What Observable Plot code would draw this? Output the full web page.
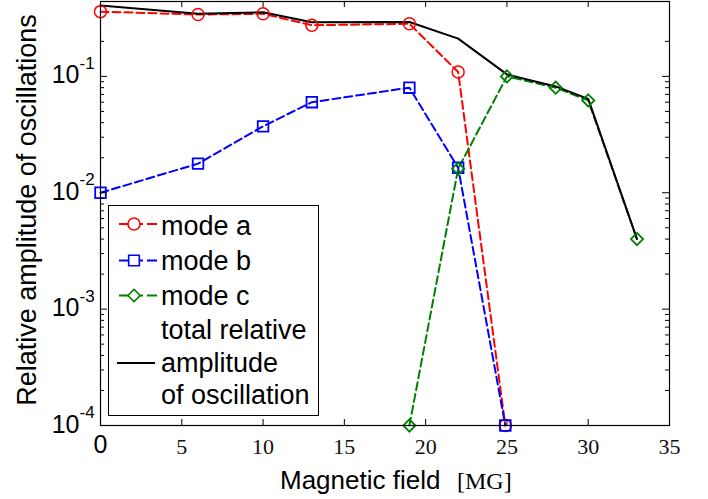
<!DOCTYPE html>
<html><head><meta charset="utf-8">
<script src="https://cdn.jsdelivr.net/npm/d3@7"></script>
<script src="https://cdn.jsdelivr.net/npm/@observablehq/plot@0.6"></script>
<style>body{margin:0;background:#fff}svg{display:block}</style>
</head><body><div id="chart"></div>
<script>
// ---- data ----
const fieldAB = [0, 6, 10, 13, 19, 22, 24.9];
const modeA = [0.36, 0.34, 0.345, 0.275, 0.283, 0.109, 1e-4];
const modeB = [0.01, 0.0178, 0.0372, 0.06, 0.08, 0.0164, 1e-4];
const fieldC = [19, 22, 25, 28, 30, 33];
const modeC = [1e-4, 0.0161, 0.1, 0.08, 0.0622, 0.004];
const fieldTotal = [0, 6, 10, 13, 19, 22, 25, 28, 30, 33];
const totalAmp = [0.406, 0.345, 0.356, 0.292, 0.293, 0.211, 0.104, 0.082, 0.064, 0.004];

const xTicks = [0, 5, 10, 15, 20, 25, 30, 35];
const yMajor = [1e-4, 1e-3, 1e-2, 1e-1];
const yExponents = ["-4", "-3", "-2", "-1"];
const minorMultipliers = [2, 3, 4, 5, 6, 7, 8, 9];
const legendLabels = ["mode a", "mode b", "mode c", "total relative", "amplitude", "of oscillation"];

const yMinor = [];
for (const d of yMajor) for (const m of minorMultipliers) if (m * d <= 0.3) yMinor.push(m * d);

const tbl = (xs, ys) => xs.map((x, i) => ({x, y: ys[i]}));
const dataA = tbl(fieldAB, modeA), dataB = tbl(fieldAB, modeB), dataC = tbl(fieldC, modeC), dataT = tbl(fieldTotal, totalAmp);

const W = 708, H = 499, mL = 100, mR = 39, mT = 1, mB = 74;
const pw = W - mL - mR, ph = H - mT - mB;
const SANS = "'Liberation Sans', Arial, sans-serif";
const SERIF = "'Liberation Serif', 'Times New Roman', serif";
const RED = "#ff0000", BLUE = "#0000ff", GREEN = "#008000";
const dash = "8,4";

const chart = Plot.plot({
  width: W, height: H,
  marginLeft: mL, marginRight: mR, marginTop: mT, marginBottom: mB,
  style: {background: "white", overflow: "visible"},
  x: {domain: [0, 35], axis: null},
  y: {type: "log", domain: [1e-4, 0.44], axis: null},
  marks: [
    Plot.line(dataA, {x: "x", y: "y", stroke: RED, strokeWidth: 2, strokeDasharray: dash}),
    Plot.line(dataB, {x: "x", y: "y", stroke: BLUE, strokeWidth: 2, strokeDasharray: dash}),
    Plot.line(dataC, {x: "x", y: "y", stroke: GREEN, strokeWidth: 2, strokeDasharray: dash}),
    Plot.line(dataT, {x: "x", y: "y", stroke: "black", strokeWidth: 2}),
    Plot.dot(dataA, {x: "x", y: "y", symbol: "circle", r: 6, stroke: RED, strokeWidth: 1.5, fill: "none"}),
    Plot.dot(dataB, {x: "x", y: "y", symbol: "square", r: 6, stroke: BLUE, strokeWidth: 1.8, fill: "none"}),
    Plot.dot(dataC, {x: "x", y: "y", symbol: "diamond2", r: 5.5, stroke: GREEN, strokeWidth: 1.8, fill: "none"}),
    Plot.frame({stroke: "black", strokeWidth: 1.2}),
    // inward ticks, left & right
    Plot.tickY(yMajor, {y: d => d, stroke: "black", insetRight: pw - 7}),
    Plot.tickY(yMajor, {y: d => d, stroke: "black", insetLeft: pw - 7}),
    Plot.tickY(yMinor, {y: d => d, stroke: "black", insetRight: pw - 4}),
    Plot.tickY(yMinor, {y: d => d, stroke: "black", insetLeft: pw - 4}),
    // inward ticks, bottom & top
    Plot.tickX(xTicks.slice(1, -1), {x: d => d, stroke: "black", insetTop: ph - 6}),
    Plot.tickX(xTicks.slice(1, -1), {x: d => d, stroke: "black", insetBottom: ph - 6}),
    // y tick labels 10^k
    Plot.text(yMajor, {y: d => d, frameAnchor: "left", lineAnchor: "middle", textAnchor: "end", dx: -21, dy: -1, text: () => "10", fontSize: 25, fontFamily: SANS, fill: "black"}),
    Plot.text(yMajor, {y: d => d, frameAnchor: "left", lineAnchor: "middle", textAnchor: "start", dx: -21, dy: -13, text: (d, i) => yExponents[i], fontSize: 17, fontFamily: SANS, fill: "black"}),
    // x tick labels
    Plot.text(xTicks.slice(0, 1), {x: d => d, frameAnchor: "bottom", lineAnchor: "middle", dy: 19, text: d => String(d), fontSize: 25, fontFamily: SANS, fill: "black"}),
    Plot.text(xTicks.slice(1), {x: d => d, frameAnchor: "bottom", lineAnchor: "middle", dy: 21, text: d => String(d), fontSize: 22, fontFamily: SERIF, fill: "#111"})
  ]
});

const svg = d3.select(chart);
// axis titles
svg.append("text").attr("transform", "translate(36,210) rotate(-90)")
  .attr("text-anchor", "middle").attr("font-family", SANS).attr("font-size", 27).attr("fill", "black")
  .text("Relative amplitude of oscillations");
const xt = svg.append("text").attr("x", 280).attr("y", 489).attr("fill", "black").attr("text-anchor", "start");
xt.append("tspan").attr("font-family", SANS).attr("font-size", 26).text("Magnetic field");
xt.append("tspan").attr("x", 457).attr("font-family", SERIF).attr("font-size", 24).text("[MG]");

// legend
const lg = svg.append("g").attr("text-anchor", "start");
lg.append("rect").attr("x", 108.5).attr("y", 205.5).attr("width", 210).attr("height", 210)
  .attr("fill", "white").attr("stroke", "black").attr("stroke-width", 1);
const rowsLine = [224, 260.5, 295.5];
const colors = [RED, BLUE, GREEN];
const syms = [d3.symbolCircle, d3.symbolSquare, d3.symbolDiamond2];
const rs = [6, 6, 5.5];
rowsLine.forEach((y, i) => {
  lg.append("line").attr("x1", 119).attr("x2", 157).attr("y1", y).attr("y2", y)
    .attr("stroke", colors[i]).attr("stroke-width", 2).attr("stroke-dasharray", "10,4");
  lg.append("path").attr("transform", `translate(134,${y})`)
    .attr("d", d3.symbol(syms[i], Math.PI * rs[i] * rs[i])())
    .attr("fill", "white").attr("stroke", colors[i]).attr("stroke-width", 1.6);
});
lg.append("line").attr("x1", 117).attr("x2", 155).attr("y1", 363).attr("y2", 363)
  .attr("stroke", "black").attr("stroke-width", 2);
const baselines = [235, 270, 305, 339, 372, 404];
legendLabels.forEach((t, i) => {
  lg.append("text").attr("x", 161).attr("y", baselines[i]).attr("text-anchor", "start")
    .attr("font-family", SANS).attr("font-size", 27).attr("fill", "black").text(t);
});

document.getElementById("chart").appendChild(chart);
</script>
</body></html>
